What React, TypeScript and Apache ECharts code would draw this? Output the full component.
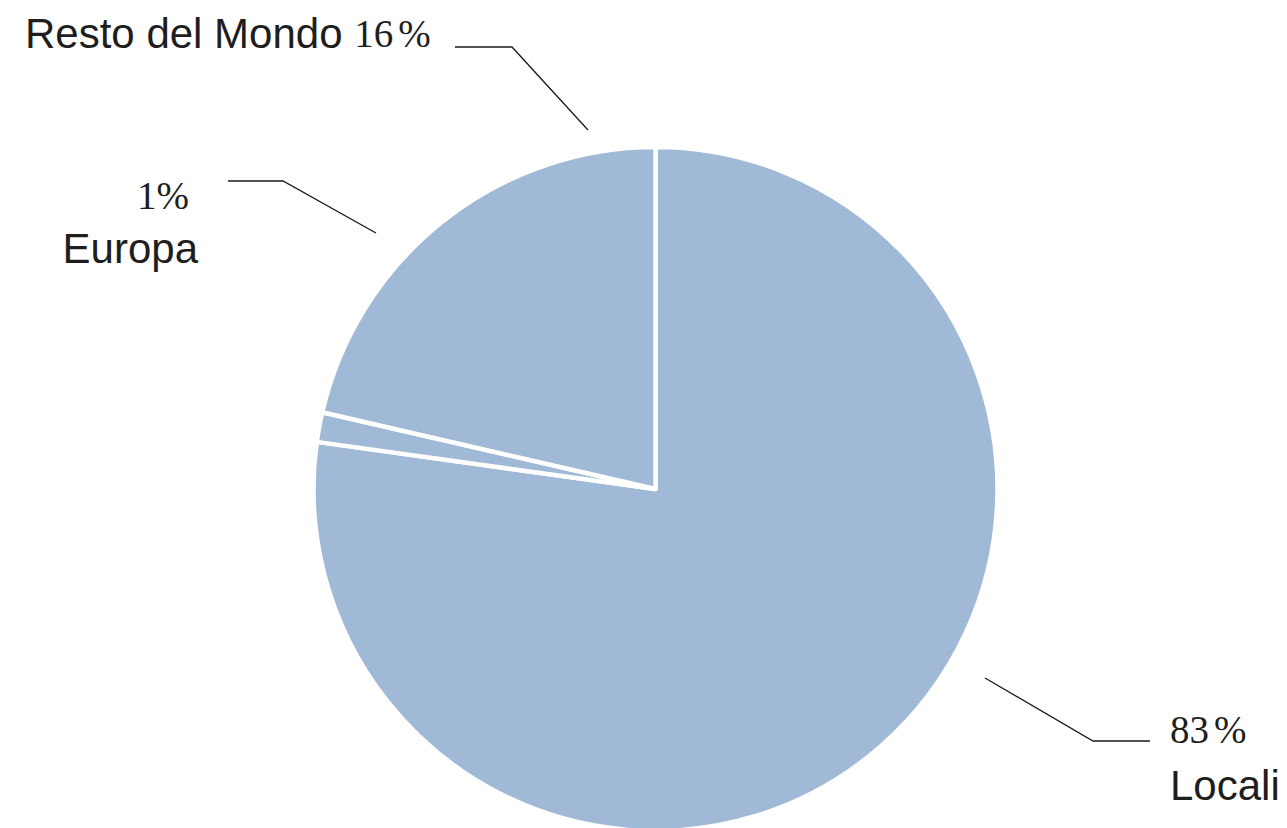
import React, { useEffect, useRef } from "react";
import * as echarts from "echarts";

// Data (slice geometry) and the printed labels
const categories = ["Locali", "Europa", "Resto del Mondo"];
const values = [77.2, 1.4, 21.4];
const percentLabels = ["83", "1", "16"];

const SLICE_COLOR = "#9fb9d6";
const TEXT_COLOR = "#1e1e1e";
const SANS = "'Liberation Sans', Arial, Helvetica, sans-serif";
const SERIF = "'Liberation Serif', 'Times New Roman', serif";

// label placement (layout only)
const labelPlacement: Record<string, any> = {
  "Locali": {
    x: 1170, y: 757, align: "left",
    points: [[985, 678], [1093, 741], [1150, 741]],
    lineHeight: 56,
  },
  "Europa": {
    x: 198, y: 222, align: "right",
    points: [[376, 233], [283, 181], [228, 181]],
    lineHeight: 53,
  },
  "Resto del Mondo": {
    x: 25, y: 33, align: "left",
    points: [[588, 130], [512, 47], [455, 47]],
    lineHeight: 44,
  },
};

function formatLabel(name: string, pct: string): string {
  if (name === "Resto del Mondo") {
    return `{name|${name} }{pct|${pct}}{sign|%}`;
  }
  const sign = pct.length > 1 ? "sign" : "signTight";
  return `{pct|${pct}}{${sign}|%}\n{name|${name}}`;
}

export default function App() {
  const ref = useRef<HTMLDivElement>(null);

  useEffect(() => {
    if (!ref.current) return;
    const chart = echarts.init(ref.current, null, { renderer: "svg" });

    const data = categories.map((name, i) => {
      const lh = labelPlacement[name].lineHeight;
      return {
        name,
        value: values[i],
        label: {
          formatter: formatLabel(name, percentLabels[i]),
          rich: {
            name: { fontFamily: SANS, fontSize: 42, color: TEXT_COLOR, lineHeight: lh },
            pct: { fontFamily: SERIF, fontSize: 39, color: TEXT_COLOR, lineHeight: lh },
            sign: { fontFamily: SERIF, fontSize: 39, color: TEXT_COLOR, lineHeight: lh, padding: [0, 0, 0, 5] },
            signTight: { fontFamily: SERIF, fontSize: 39, color: TEXT_COLOR, lineHeight: lh, padding: [0, 9, 0, 0] },
          },
        },
      };
    });

    chart.setOption({
      animation: false,
      backgroundColor: "#ffffff",
      series: [
        {
          type: "pie",
          center: [655.5, 489],
          radius: 342,
          startAngle: 90,
          clockwise: true,
          avoidLabelOverlap: false,
          itemStyle: { color: SLICE_COLOR, borderColor: "#ffffff", borderWidth: 4.5 },
          emphasis: { disabled: true },
          label: {
            show: true,
            position: "outside",
            overflow: "none",
            color: TEXT_COLOR,
          },
          labelLine: {
            show: true,
            lineStyle: { color: "#1a1a1a", width: 1.3 },
          },
          labelLayout: (params: any) => {
            const name = categories[params.dataIndex];
            const p = labelPlacement[name];
            return {
              x: p.x,
              y: p.y,
              align: p.align,
              verticalAlign: "middle",
              labelLinePoints: p.points,
            };
          },
          data,
        },
      ],
    });

    return () => chart.dispose();
  }, []);

  return (
    <div
      ref={ref}
      style={{ position: "fixed", left: 0, top: 0, width: "1287px", height: "828px" }}
    />
  );
}
